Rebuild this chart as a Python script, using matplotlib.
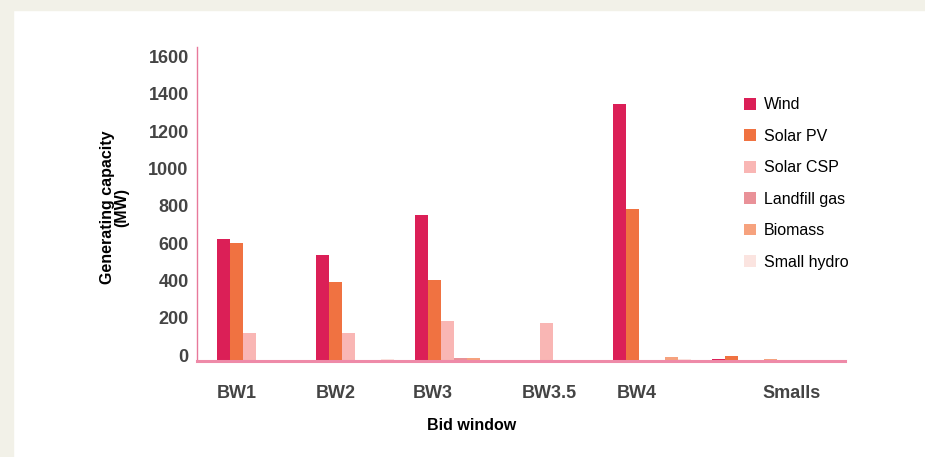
import numpy as np
import matplotlib.pyplot as plt
import matplotlib.transforms as mtransforms
from matplotlib.patches import Rectangle

windows = ['BW1', 'BW2', 'BW3', 'BW3.5', 'BW4', 'Smalls']
wind = [655, 570, 785, 0, 1380, 12]
solar_pv = [630, 425, 435, 0, 815, 28]
solar_csp = [150, 150, 215, 205, 0, 0]
landfill = [0, 0, 15, 0, 0, 0]
biomass = [0, 0, 15, 0, 22, 13]
small_hydro = [0, 10, 0, 0, 10, 0]

series = [('Wind', wind, '#db1f57'),
          ('Solar PV', solar_pv, '#f07241'),
          ('Solar CSP', solar_csp, '#f9b6b4'),
          ('Landfill gas', landfill, '#e99198'),
          ('Biomass', biomass, '#f6a27e'),
          ('Small hydro', small_hydro, '#fbe4e0')]

# label shift relative to group centre (the labels in the original sit off-centre)
label_shift = [-0.20, -0.20, -0.22, -0.04, -0.15, 0.41]

plt.rcParams['font.family'] = ['Liberation Sans Narrow', 'Liberation Sans', 'DejaVu Sans']

fig = plt.figure(figsize=(9.25, 4.57), dpi=100)
fig.patches.append(Rectangle((0, 1 - 10 / 457), 1, 10 / 457, transform=fig.transFigure,
                             color='#f2f1e8', zorder=0))
fig.patches.append(Rectangle((0, 0), 13 / 925, 1, transform=fig.transFigure,
                             color='#f2f1e8', zorder=0))
ax = fig.add_axes([197 / 925, 96 / 457, 648 / 925, 314 / 457])

x = np.arange(len(windows))
w = 0.131
for j, (name, vals, col) in enumerate(series):
    ax.bar(x + (j - 2.5) * w, vals, w, color=col, label=name, zorder=2)

ax.set_xlim(-0.6, 5.95)
ax.set_ylim(0, 1683)
ax.set_yticks(np.arange(0, 1601, 200))
ax.set_xticks(x + np.array(label_shift))
ax.set_xticklabels(windows)

for s in ['top', 'right']:
    ax.spines[s].set_visible(False)
ax.spines['left'].set_color('#e8799b')
ax.spines['left'].set_linewidth(1.0)
ax.spines['bottom'].set_color('#ee8aa8')
ax.spines['bottom'].set_linewidth(2.2)
ax.spines['bottom'].set_zorder(3)

ax.tick_params(axis='both', length=0, labelsize=13, labelcolor='#444444')
ax.tick_params(axis='x', pad=17)
ax.tick_params(axis='y', pad=6)
for lbl in ax.get_xticklabels() + ax.get_yticklabels():
    lbl.set_fontweight('bold')
offset = mtransforms.ScaledTranslation(0, 6 / 100, fig.dpi_scale_trans)
for lbl in ax.get_yticklabels():
    lbl.set_transform(lbl.get_transform() + offset)

ax.set_ylabel('Generating capacity\n(MW)', fontsize=11.5, fontweight='bold',
              color='black', linespacing=1.0)
ax.yaxis.set_label_coords(-0.104, 0.49)
ax.set_xlabel('Bid window', fontsize=11.5, fontweight='bold', color='black')
ax.xaxis.set_label_coords(0.424, -0.18)

ax.legend(loc='upper left', bbox_to_anchor=(0.834, 0.86), frameon=False, fontsize=11.5,
          handlelength=0.75, handleheight=0.75, handletextpad=0.5, labelspacing=1.03,
          borderaxespad=0)

fig.savefig('out.png', dpi=100, facecolor='white')
